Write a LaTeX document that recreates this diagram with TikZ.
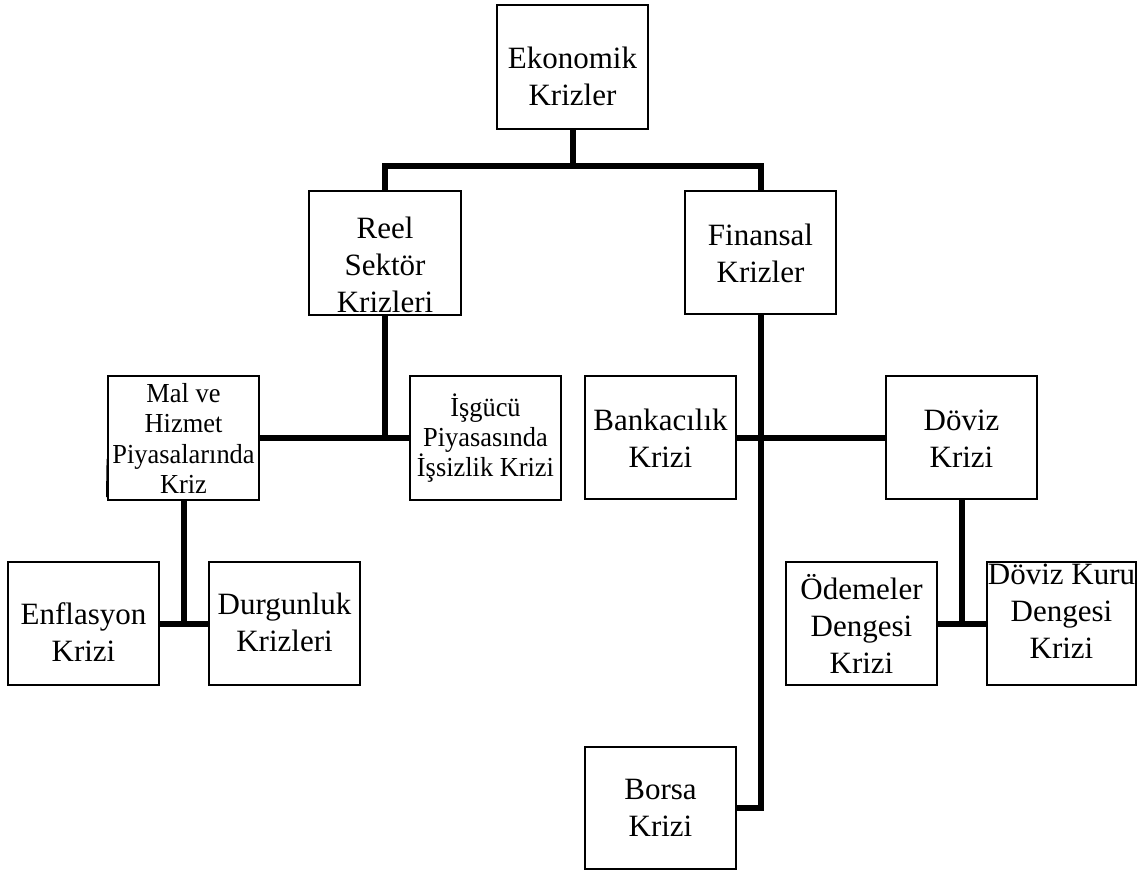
\documentclass[tikz,border=0pt]{standalone}
\usepackage{fontspec}
\setmainfont{Liberation Serif}
\newfontfamily\condserif[FakeStretch=0.96]{Liberation Serif}
\usetikzlibrary{calc}
\tikzset{
  box/.style={draw=black, line width=1.5pt, fill=white, inner sep=0pt},
  conn/.style={draw=black, line width=6pt},
  bigtxt/.style={inner sep=0pt, align=center, font=\fontsize{31}{37}\selectfont},
  smalltxt/.style={inner sep=0pt, align=center, font=\condserif\fontsize{27.5}{30.2}\selectfont},
}
\begin{document}
\begin{tikzpicture}[x=1pt,y=-1pt]
\useasboundingbox (0,0) rectangle (1141,873);
% boxes
\node[box, minimum width=151pt, minimum height=124pt] (eko)   at (572.5,67)   {};
\node[box, minimum width=152pt, minimum height=124pt] (reel)  at (385,253)    {};
\node[box, minimum width=151pt, minimum height=123pt] (fin)   at (760.5,252.5) {};
\node[box, minimum width=151pt, minimum height=124pt] (mal)   at (183.5,438)  {};
\node[box, minimum width=151pt, minimum height=124pt] (isg)   at (485.5,438)  {};
\node[box, minimum width=151pt, minimum height=123pt] (bank)  at (660.5,437.5) {};
\node[box, minimum width=151pt, minimum height=123pt] (doviz) at (961.5,437.5) {};
\node[box, minimum width=151pt, minimum height=123pt] (enf)   at (83.5,623.5) {};
\node[box, minimum width=151pt, minimum height=123pt] (durg)  at (284.5,623.5) {};
\node[box, minimum width=151pt, minimum height=123pt] (odem)  at (861.5,623.5) {};
\node[box, minimum width=149pt, minimum height=123pt] (dkuru) at (1061.5,623.5) {};
\node[box, minimum width=151pt, minimum height=122pt] (borsa) at (660.5,808)  {};
% texts
\node[bigtxt] (teko) at (572.5,76) {Ekonomik\\Krizler};
\node[bigtxt] (treel) at (385,264.5) {Reel\\Sektör\\Krizleri};
\node[bigtxt] (tfin) at (760.5,253) {Finansal\\Krizler};
\node[smalltxt] (tmal) at (183.5,438.5) {Mal ve\\Hizmet\\Piyasalarında\\Kriz};
\node[smalltxt] (tisg) at (485.5,438) {İşgücü\\Piyasasında\\İşsizlik Krizi};
\node[bigtxt] (tbank) at (660.5,438.5) {Bankacılık\\Krizi};
\node[bigtxt] (tdoviz) at (961.5,438.5) {Döviz\\Krizi};
\node[bigtxt] (tenf) at (83.5,632.5) {Enflasyon\\Krizi};
\node[bigtxt] (tdurg) at (284.5,622.5) {Durgunluk\\Krizleri};
\node[bigtxt] (todem) at (861.5,623.5) {Ödemeler\\Dengesi\\Krizi};
\node[bigtxt] (tdkuru) at (1061.5,611) {Döviz Kuru\\Dengesi\\Krizi};
\node[bigtxt] (tborsa) at (660.5,808) {Borsa\\Krizi};
% junctions
\coordinate (jE) at (572.5,166);
\coordinate (jR) at (385,438);
\coordinate (jM) at (183.5,623.5);
\coordinate (jD) at (961.5,623.5);
% connectors
\draw[conn] (eko.south) -- (jE);
\draw[conn] (reel.north) |- (jE) -| (fin.north);
\draw[conn] (reel.south) -- (jR);
\draw[conn] (mal.east) -- (isg.west);
\draw[conn] (fin.south) |- (borsa.east);
\draw[conn] (bank.east) -- (doviz.west);
\draw[conn] (mal.south) -- (jM);
\draw[conn] (enf.east) -- (durg.west);
\draw[conn] (doviz.south) -- (jD);
\draw[conn] (odem.east) -- (dkuru.west);
% small stray stroke at left of the Mal box
\draw[line width=1.2pt] (107.2,459) -- (106.6,497);
\end{tikzpicture}
\end{document}
